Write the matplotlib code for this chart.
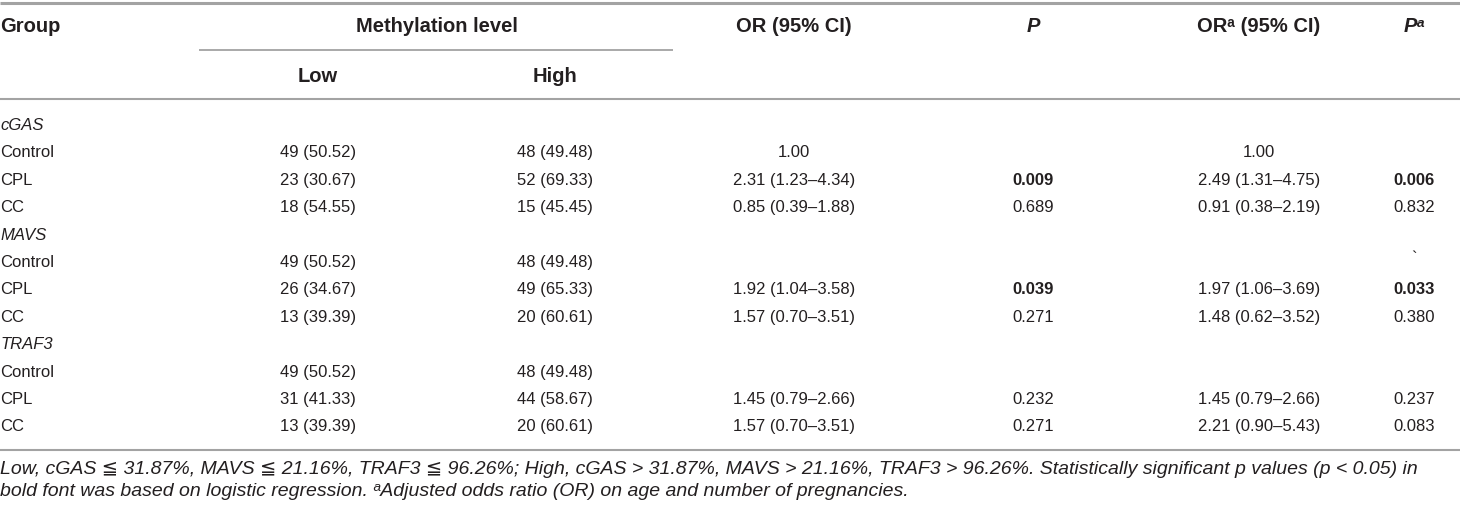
import matplotlib
matplotlib.use("Agg")
import matplotlib.pyplot as plt

plt.rcParams['font.family'] = ['Liberation Sans', 'DejaVu Sans']

# ---- table data ----
genes = ['cGAS', 'MAVS', 'TRAF3']
subgroups = ['Control', 'CPL', 'CC']

low_n = [[49, 23, 18], [49, 26, 13], [49, 31, 13]]
low_pct = [[50.52, 30.67, 54.55], [50.52, 34.67, 39.39], [50.52, 41.33, 39.39]]
high_n = [[48, 52, 15], [48, 49, 20], [48, 44, 20]]
high_pct = [[49.48, 69.33, 45.45], [49.48, 65.33, 60.61], [49.48, 58.67, 60.61]]

# odds ratios: (estimate, lower, upper); None = empty cell, lower None = reference
or_crude = [[(1.00, None, None), (2.31, 1.23, 4.34), (0.85, 0.39, 1.88)],
            [None, (1.92, 1.04, 3.58), (1.57, 0.70, 3.51)],
            [None, (1.45, 0.79, 2.66), (1.57, 0.70, 3.51)]]
p_crude = [[None, 0.009, 0.689], [None, 0.039, 0.271], [None, 0.232, 0.271]]
or_adj = [[(1.00, None, None), (2.49, 1.31, 4.75), (0.91, 0.38, 2.19)],
          [None, (1.97, 1.06, 3.69), (1.48, 0.62, 3.52)],
          [None, (1.45, 0.79, 2.66), (2.21, 0.90, 5.43)]]
p_adj = [[None, 0.006, 0.832], ['`', 0.033, 0.380], [None, 0.237, 0.083]]

footnote = ["Low, cGAS \u2266 31.87%, MAVS \u2266 21.16%, TRAF3 \u2266 96.26%; High, cGAS > 31.87%, "
            "MAVS > 21.16%, TRAF3 > 96.26%. Statistically significant p values (p < 0.05) in",
            "bold font was based on logistic regression. \u1d43Adjusted odds ratio (OR) on age "
            "and number of pregnancies."]

TXT = '#231f20'
RULE = '#a3a3a3'
FS = 12
HFS = 14.5

# column centres (pixels)
x_low, x_high, x_or, x_p, x_ora, x_pa = 318, 555, 794, 1033, 1259, 1414


def fmt_or(v):
    if v is None:
        return ''
    est, lo, hi = v
    if lo is None:
        return f'{est:.2f}'
    return f'{est:.2f} ({lo:.2f}\u2013{hi:.2f})'


def fmt_p(v):
    if v is None:
        return '', 'normal'
    if isinstance(v, str):
        return v, 'normal'
    return f'{v:.3f}', 'bold' if v < 0.05 else 'normal'


fig = plt.figure(figsize=(14.6, 5.11), dpi=100)
ax = fig.add_axes([0, 0, 1, 1])
ax.set_xlim(0, 1460)
ax.set_ylim(511, 0)
ax.axis('off')

# rules
ax.plot([0, 1460], [3, 3], color=RULE, lw=2.2, solid_capstyle='butt')
ax.plot([199, 673], [50, 50], color=RULE, lw=1.3, solid_capstyle='butt')
ax.plot([0, 1460], [99, 99], color=RULE, lw=1.5, solid_capstyle='butt')
ax.plot([0, 1460], [450.5, 450.5], color=RULE, lw=1.5, solid_capstyle='butt')

# header
hy = 26
hkw = dict(fontsize=HFS, fontweight='bold', color=TXT, va='center')
ax.text(0, hy, 'Group', ha='left', **hkw)
ax.text((x_low + x_high) / 2, hy, 'Methylation level', ha='center', **hkw)
ax.text(x_or, hy, 'OR (95% CI)', ha='center', **hkw)
ax.text(x_p, hy, 'P', ha='center', fontstyle='italic', **hkw)
ax.text(x_ora, hy, 'OR\u1d43 (95% CI)', ha='center', **hkw)
ax.text(x_pa, hy, 'P\u1d43', ha='center', fontstyle='italic', **hkw)
ax.text(x_low, 76, 'Low', ha='center', **hkw)
ax.text(x_high, 76, 'High', ha='center', **hkw)

# body
y0, dy = 125.5, 27.4
row = 0
kw = dict(fontsize=FS, color=TXT, va='center')
for g, gene in enumerate(genes):
    ax.text(0, y0 + row * dy, gene, ha='left', fontstyle='italic', **kw)
    row += 1
    for s, sub in enumerate(subgroups):
        y = y0 + row * dy
        ax.text(0, y, sub, ha='left', **kw)
        ax.text(x_low, y, f'{low_n[g][s]} ({low_pct[g][s]:.2f})', ha='center', **kw)
        ax.text(x_high, y, f'{high_n[g][s]} ({high_pct[g][s]:.2f})', ha='center', **kw)
        ax.text(x_or, y, fmt_or(or_crude[g][s]), ha='center', **kw)
        ax.text(x_ora, y, fmt_or(or_adj[g][s]), ha='center', **kw)
        t, w = fmt_p(p_crude[g][s])
        ax.text(x_p, y, t, ha='center', fontweight=w, **kw)
        t, w = fmt_p(p_adj[g][s])
        ax.text(x_pa, y - (4 if t == '`' else 0), t, ha='center', fontweight=w, **kw)
        row += 1

# footnote
for i, line in enumerate(footnote):
    ax.text(0, 470 + i * 22, line, ha='left', va='center', fontsize=14,
            fontstyle='italic', color=TXT)

fig.savefig('out.png', dpi=100)
